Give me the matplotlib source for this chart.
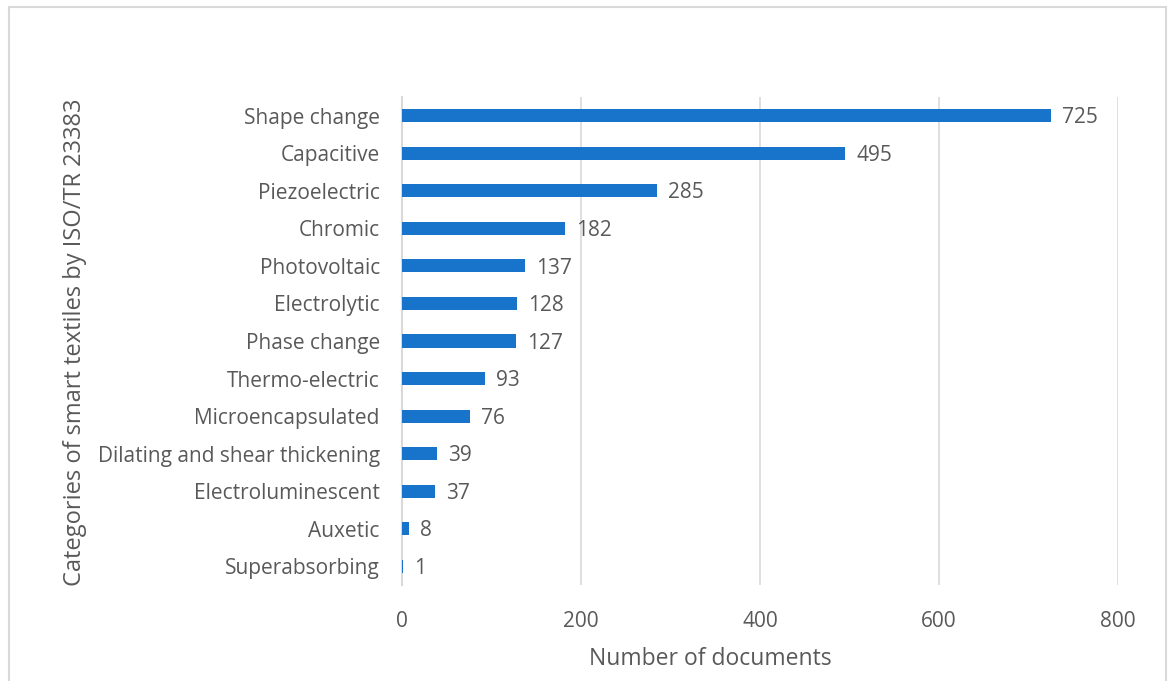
import matplotlib
matplotlib.use('Agg')
import matplotlib.pyplot as plt
from matplotlib.patches import Rectangle

# categories from top to bottom, as shown in the chart
categories = [
    'Shape change', 'Capacitive', 'Piezoelectric', 'Chromic', 'Photovoltaic',
    'Electrolytic', 'Phase change', 'Thermo-electric', 'Microencapsulated',
    'Dilating and shear thickening', 'Electroluminescent', 'Auxetic',
    'Superabsorbing',
]
documents = [725, 495, 285, 182, 137, 128, 127, 93, 76, 39, 37, 8, 1]
x_ticks = [0, 200, 400, 600, 800]

BAR = '#1873CA'
GREY_TXT = '#595959'
GRID = '#D9D9D9'

plt.rcParams['font.family'] = ['Open Sans', 'DejaVu Sans']

fig = plt.figure(figsize=(11.69, 6.81), dpi=100)
ax = fig.add_axes([402 / 1169, 1 - 585 / 681, (1118 - 402) / 1169, (585 - 97) / 681])

ypos = list(range(len(categories)))
ax.barh(ypos, documents, height=0.35, color=BAR, zorder=3)
for y, v in zip(ypos, documents):
    ax.annotate(str(v), (v, y), xytext=(8, -1.5), textcoords='offset points',
                ha='left', va='center', fontsize=15, color=GREY_TXT)

ax.set_ylim(len(categories) - 0.5, -0.5)
ax.set_xlim(0, 800)
ax.set_yticks(ypos)
ax.set_yticklabels(categories, fontsize=15, color=GREY_TXT)
ax.set_xticks(x_ticks)
ax.set_xticklabels([str(t) for t in x_ticks], fontsize=15, color=GREY_TXT)
ax.tick_params(length=0, pad=16)
ax.tick_params(axis='x', pad=19)

ax.grid(axis='x', color=GRID, lw=1.2, zorder=0)
for s in ['top', 'right', 'bottom']:
    ax.spines[s].set_visible(False)
ax.spines['left'].set_color(GRID)
ax.spines['left'].set_linewidth(1.5)

# axis titles sit where Excel put them (x title is not centred on the plot)
fig.text(710 / 1169, 1 - 659 / 681, 'Number of documents',
         ha='center', va='center', fontsize=16.5, color=GREY_TXT)
fig.text(75 / 1169, 1 - 342 / 681, 'Categories of smart textiles by ISO/TR 23383',
         rotation=90, ha='center', va='center', fontsize=17, color=GREY_TXT)

# light chart-area border
fig.patches.append(Rectangle((9 / 1169, -0.02), (1166 - 9) / 1169, 1 - 7 / 681 + 0.02,
                             transform=fig.transFigure, fill=False,
                             edgecolor='#D9D9D9', lw=1.5))

fig.savefig('out.png', dpi=100)
